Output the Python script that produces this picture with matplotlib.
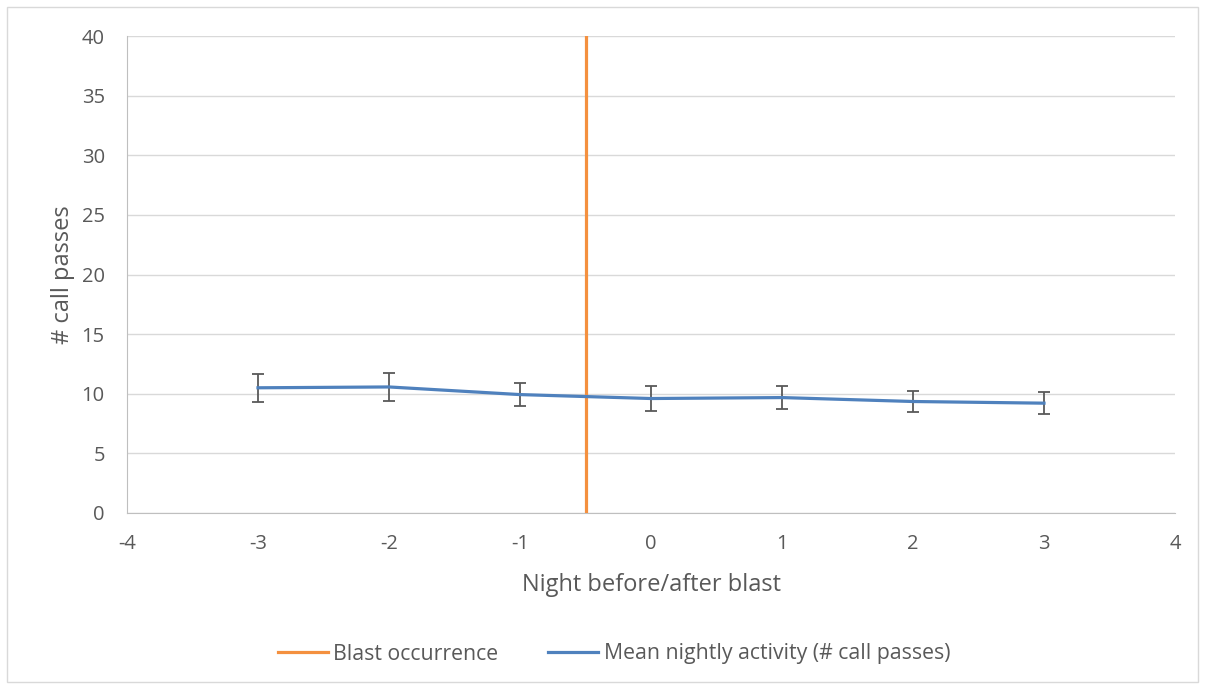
import numpy as np
import matplotlib.pyplot as plt
from matplotlib.patches import Rectangle
from matplotlib.lines import Line2D

# nights relative to blast, mean call passes and error
nights = [-3, -2, -1, 0, 1, 2, 3]
mean_activity = [10.5, 10.57, 9.93, 9.6, 9.68, 9.35, 9.21]
err_activity = [1.17, 1.17, 0.94, 1.07, 1.0, 0.88, 0.9]
blast_x = [-0.5, -0.5]
blast_y = [0, 40]

plt.rcParams['font.family'] = ['Open Sans', 'DejaVu Sans']
plt.rcParams['axes.unicode_minus'] = False
txt_color = '#595959'
orange = '#F4903F'
blue = '#4F81BD'

fig = plt.figure(figsize=(12.05, 6.89), dpi=100)
ax = fig.add_axes([127/1205, 1 - 513/689, (1175-127)/1205, (513-36)/689])

# outer chart border
fig.patches.append(Rectangle((7/1205, 7/689), 1191/1205, 675/689, transform=fig.transFigure,
                             fill=False, edgecolor='#D9D9D9', linewidth=1))

ax.plot(blast_x, blast_y, color=orange, linewidth=2.3, zorder=3)
ax.errorbar(nights, mean_activity, yerr=err_activity, color=blue, linewidth=2.3,
            ecolor='#595959', elinewidth=1.3, capsize=4.5, capthick=1.3, zorder=4)

ax.set_xlim(-4, 4)
ax.set_ylim(0, 40)
ax.set_xticks(range(-4, 5))
ax.set_yticks(range(0, 41, 5))
ax.grid(axis='y', color='#D9D9D9', linewidth=1)
ax.set_axisbelow(True)
for s in ['top', 'right']:
    ax.spines[s].set_visible(False)
for s in ['left', 'bottom']:
    ax.spines[s].set_color('#BFBFBF')
ax.tick_params(axis='both', colors=txt_color, labelsize=14.5, length=0)
ax.tick_params(axis='y', pad=16)
ax.tick_params(axis='x', pad=15)

ax.set_xlabel('Night before/after blast', fontsize=17, color=txt_color, labelpad=14)
ax.set_ylabel('# call passes', fontsize=17, color=txt_color, labelpad=5)

handles = [Line2D([], [], color=orange, linewidth=2.3), Line2D([], [], color=blue, linewidth=2.3)]
labels = ['Blast occurrence', 'Mean nightly activity (# call passes)']
ax.legend(handles, labels, loc='center', bbox_to_anchor=(0.4647, (654 - 513) / -(513 - 36)), ncol=2,
          frameon=False, fontsize=15.3, labelcolor=txt_color, handlelength=2.35,
          handletextpad=0.25, columnspacing=2.35)

fig.savefig('out.png', dpi=100)
